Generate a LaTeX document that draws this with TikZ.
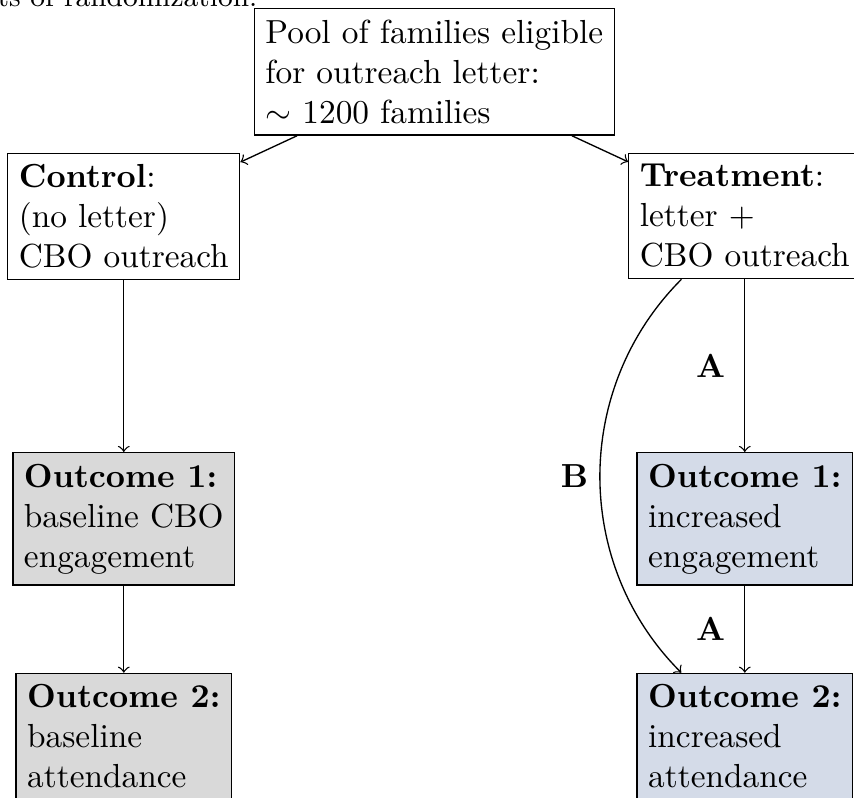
\documentclass[tikz,border=0pt]{standalone}
\usepackage{tikz}
\definecolor{ctrlgray}{RGB}{217,217,217}
\definecolor{treatblue}{RGB}{212,219,232}
\begin{document}
\begin{tikzpicture}[x=0.3pt,y=-0.3pt,
  box/.style={draw, align=left, anchor=north},
  ctrlbox/.style={box, fill=ctrlgray},
  treatbox/.style={box, fill=treatblue},
  conn/.style={->},
  lab/.style={font=\bfseries}]
\useasboundingbox (0,0) rectangle (854,798);
\clip (0,0) rectangle (854,798);
\node[anchor=base east, inner sep=0pt, font=\fontsize{8.6}{10}\selectfont] (cap) at (258,6) {ts of randomization.};
\node[box] (pool) at (434.3,8) {Pool of families eligible\\for outreach letter:\\$\sim$ 1200 families};
\node[box] (control) at (123.8,152.5) {\textbf{Control}:\\(no letter)\\CBO outreach};
\node[box] (treat) at (744.8,152.5) {\textbf{Treatment}:\\letter $+$\\CBO outreach};
\node[ctrlbox] (o1l) at (123.8,452) {\textbf{Outcome 1:}\\baseline CBO\\engagement};
\node[ctrlbox] (o2l) at (123.8,672.7) {\textbf{Outcome 2:}\\baseline\\attendance};
\node[treatbox] (o1r) at (744.8,452) {\textbf{Outcome 1:}\\increased\\engagement};
\node[treatbox] (o2r) at (744.8,672.7) {\textbf{Outcome 2:}\\increased\\attendance};
\draw[conn] (pool) -- (control);
\draw[conn] (pool) -- (treat);
\draw[conn] (control) -- (o1l);
\draw[conn] (o1l) -- (o2l);
\draw[conn] (treat) -- node[midway, left=2.4pt, lab] {A} (o1r);
\draw[conn] (o1r) -- node[midway, left=2.4pt, lab] {A} (o2r);
\draw[conn] (treat) to[bend right=45] node[midway, left, lab] {B} (o2r);
\end{tikzpicture}
\end{document}
